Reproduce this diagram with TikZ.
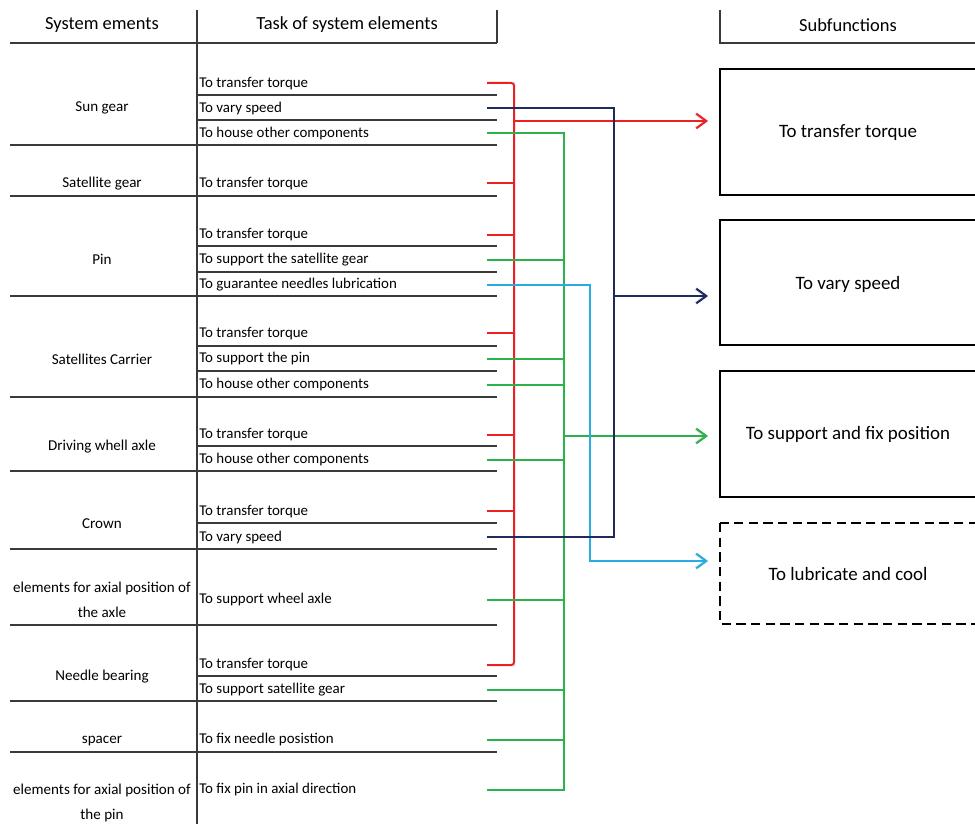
\documentclass[tikz,border=0pt]{standalone}
\usepackage{fontspec}
\setmainfont{Carlito}
\usetikzlibrary{arrows.meta}
\definecolor{cred}{HTML}{ED2024}
\definecolor{cnavy}{HTML}{1F2B5E}
\definecolor{cgreen}{HTML}{2BB24C}
\definecolor{ccyan}{HTML}{2AACE2}
\definecolor{tline}{HTML}{3A3A3A}
\begin{document}
\begin{tikzpicture}[x=0.75pt,y=-0.75pt,
 tbl/.style={draw=tline,line width=1pt},
 task/.style={anchor=west,inner sep=0pt,font=\fontsize{11.2}{12}\selectfont},
 elem/.style={align=center,inner sep=0pt,font=\fontsize{11.3}{18.75}\selectfont},
 head/.style={inner sep=0pt,font=\fontsize{13.85}{15}\selectfont},
 subtext/.style={inner sep=0pt,font=\fontsize{14.2}{16}\selectfont},
 subbox/.style={draw=black,line width=1.5pt},
 link/.style={line width=1.5pt},
 shade/.style={line width=2.2pt,draw=black!12,shift={(1.5,2.5)}},
 arr/.style={link,-{Straight Barb[length=7.5pt,width=11pt,line width=1.5pt]}},
 sarr/.style={shade,-{Straight Barb[length=7.5pt,width=11pt,line width=2.2pt]}},
]
\useasboundingbox (0,0) rectangle (975,824);
\fill[white] (0,0) rectangle (975,824);

% headers
\node[head] (h1) at (102,25) {System ements};
\node[head] (h2) at (347,25) {Task of system elements};
\node[head] (h3) at (848,25) {Subfunctions};
\draw[tbl] (10,43) -- (497,43);
\draw[tbl] (497,10) -- (497,43);
\draw[tbl] (197,10) -- (197,824);
\draw[tbl] (720,10) -- (720,43) -- (975,43);

% elements
\node[elem] (e1) at (102,108) {Sun gear};
\node[elem] (e2) at (102,184) {Satellite gear};
\node[elem] (e3) at (102,259) {Pin};
\node[elem] (e4) at (102,359) {Satellites Carrier};
\node[elem] (e5) at (102,447) {Driving whell axle};
\node[elem] (e6) at (102,524) {Crown};
\node[elem] (e7) at (102,600) {elements for axial position of\\the axle};
\node[elem] (e8) at (102,677) {Needle bearing};
\node[elem] (e9) at (102,741) {spacer};
\node[elem] (e10) at (102,803) {elements for axial position of\\the pin};

% tasks
\node[task] (t1) at (199,84) {To transfer torque};
\node[task] (t2) at (199,109) {To vary speed};
\node[task] (t3) at (199,134) {To house other components};
\node[task] (t4) at (199,184) {To transfer torque};
\node[task] (t5) at (199,235) {To transfer torque};
\node[task] (t6) at (199,260) {To support the satellite gear};
\node[task] (t7) at (199,285) {To guarantee needles lubrication};
\node[task] (t8) at (199,334) {To transfer torque};
\node[task] (t9) at (199,359) {To support the pin};
\node[task] (t10) at (199,385) {To house other components};
\node[task] (t11) at (199,435) {To transfer torque};
\node[task] (t12) at (199,460) {To house other components};
\node[task] (t13) at (199,512) {To transfer torque};
\node[task] (t14) at (199,538) {To vary speed};
\node[task] (t15) at (199,600) {To support wheel axle};
\node[task] (t16) at (199,665) {To transfer torque};
\node[task] (t17) at (199,690) {To support satellite gear};
\node[task] (t18) at (199,740) {To fix needle posistion};
\node[task] (t19) at (199,790) {To fix pin in axial direction};

% stub start points
\foreach \i/\y in {1/83,2/108,3/133,4/183,5/235,6/260,7/285,8/333,9/359,10/385,11/435,12/460,13/511,14/537,15/600,16/665,17/690,18/740,19/790}
  \coordinate (c\i) at (487,\y);

% subfunction boxes
\draw[subbox] (720,69) rectangle (990,195);
\draw[subbox] (720,220) rectangle (990,345);
\draw[subbox] (720,371) rectangle (990,497);
\draw[subbox,dashed,dash pattern=on 7pt off 4pt] (720,523) rectangle (990,624);
\node[subtext] (f1) at (848,133) {To transfer torque};
\node[subtext] (f2) at (848,284) {To vary speed};
\node[subtext] (f3) at (848,434) {To support and fix position};
\node[subtext] (f4) at (848,574) {To lubricate and cool};

% junctions and arrow ends
\coordinate (rj) at (514,121);
\coordinate (nj) at (614,296);
\coordinate (gj) at (564,436);
\coordinate (lj) at (590,561);
\coordinate (ra) at (708,121);
\coordinate (na) at (708,296);
\coordinate (ga) at (708,436);
\coordinate (la) at (708,561);

% soft shadows of the connectors
\draw[shade] (c1) -| (rj) |- (c16);
\foreach \i in {4,5,8,11,13}
  \draw[shade] (c\i) -- (c\i -| rj);
\draw[sarr] (rj) -- (ra);
\draw[shade] (c3) -| (gj) |- (c19);
\foreach \i in {6,9,10,12,15,17,18}
  \draw[shade] (c\i) -- (c\i -| gj);
\draw[sarr] (gj) -- (ga);
\draw[sarr] (c7) -| (lj) -- (la);
\draw[shade] (c2) -| (nj) |- (c14);
\draw[sarr] (nj) -- (na);

% group separators
\foreach \y in {145,196,296,397,471,549,625,701,752}
  \draw[tbl] (10,\y) -- (497,\y);
% task separators
\foreach \y in {95,120,246,272,346,371,446,523,676}
  \draw[tbl] (197,\y) -- (497,\y);

% red
\draw[link,cred,rounded corners=2pt] (c1) -| (rj) |- (c16);
\foreach \i in {4,5,8,11,13}
  \draw[link,cred] (c\i) -- (c\i -| rj);
\draw[arr,cred] (rj) -- (ra);

% green
\draw[link,cgreen] (c3) -| (gj) |- (c19);
\foreach \i in {6,9,10,12,15,17,18}
  \draw[link,cgreen] (c\i) -- (c\i -| gj);
\draw[arr,cgreen] (gj) -- (ga);

% cyan
\draw[arr,ccyan] (c7) -| (lj) -- (la);

% navy
\draw[link,cnavy] (c2) -| (nj) |- (c14);
\draw[arr,cnavy] (nj) -- (na);
\end{tikzpicture}
\end{document}
